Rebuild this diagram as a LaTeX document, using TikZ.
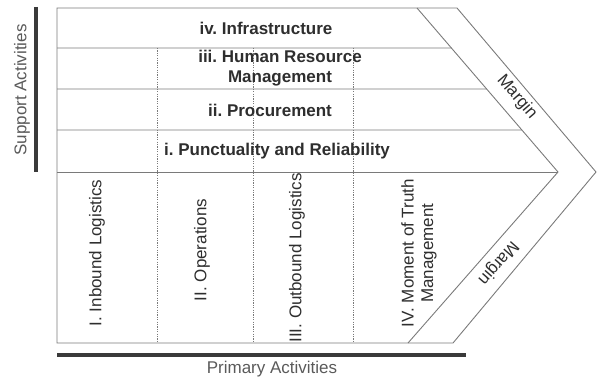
\documentclass[tikz,border=0pt]{standalone}
\usepackage{fontspec}
\setmainfont{Liberation Sans}
\usetikzlibrary{calc}
\frenchspacing
\definecolor{boxline}{HTML}{7A7A7A}
\definecolor{txtdark}{HTML}{2E2E2E}
\definecolor{txtgray}{HTML}{5A5A5A}
\definecolor{barcol}{HTML}{3A3A3A}
\tikzset{
  frame/.style={draw=boxline, line width=0.9pt, line join=miter},
  divider/.style={draw=boxline, line width=0.7pt, dash pattern=on 1.2pt off 1.2pt},
  bar/.style={draw=barcol, line width=3.2pt},
  supp/.style={font=\fontsize{17}{20}\selectfont\bfseries, text=txtdark, inner sep=0pt, align=center},
  prim/.style={font=\fontsize{17}{19.5}\selectfont, text=txtdark, inner sep=0pt, align=center, rotate=90},
  side/.style={font=\fontsize{17}{20}\selectfont, text=txtgray, inner sep=0pt},
  marg/.style={font=\fontsize{17}{20}\selectfont, text=txtdark, inner sep=0pt}
}
\begin{document}
\begin{tikzpicture}[x=1pt,y=-1pt]
\useasboundingbox (0,0) rectangle (597,377);
% corners
\coordinate (tl) at (57,8);
\coordinate (bl) at (57,343);
\coordinate (ito) at (417,8);
\coordinate (ip) at (558,172);
\coordinate (ibo) at (408,343);
\coordinate (oto) at (457,8);
\coordinate (op) at (596,172);
\coordinate (obo) at (453,343);
% outer frame
\draw[frame] (tl) -- (oto) -- (op) -- (obo) -- (bl) -- cycle;
% inner chevron
\draw[frame] (ito) -- (ip) -- (ibo);
% rows
\coordinate (r1) at ($(ito)!{40/164}!(ip)$);
\coordinate (r2) at ($(ito)!{81/164}!(ip)$);
\coordinate (r3) at ($(ito)!{122/164}!(ip)$);
\draw[frame] (57,48) -- (r1);
\draw[frame] (57,89) -- (r2);
\draw[frame] (57,130) -- (r3);
\draw[frame] (57,172) -- (ip);
% dashed dividers
\draw[divider] (157,48) -- (157,343);
\draw[divider] (253,48) -- (253,343);
\draw[divider] (353,48) -- (353,343);
% bars
\draw[bar] (36,7) -- (36,172);
\draw[bar] (57,355) -- (466,355);
% support texts
\node[supp] (iv) at (266,28) {iv. Infrastructure};
\node[supp] (iii) at (280,68) {iii. Human Resource\\Management};
\node[supp] (ii) at (270,110) {ii. Procurement};
\node[supp] (i) at (277,151) {i. Punctuality and Reliability};
% primary texts
\node[prim] (I) at (97,253) {I. Inbound Logistics};
\node[prim] (II) at (202,250) {II. Operations};
\node[prim] (III) at (297,258) {III. Outbound Logistics};
\node[prim] (IV) at (419,253) {IV. Moment of Truth\\Management};
% margins
\node[marg, rotate=-49.3] (m1) at (517,97) {Margin};
\node[marg, rotate=228.7] (m2) at (498,263) {Margin};
% side labels
\node[side, rotate=90] (sa) at (22,90) {Support Activities};
\node[side] (pa) at (272,369) {Primary Activities};
\end{tikzpicture}
\end{document}
